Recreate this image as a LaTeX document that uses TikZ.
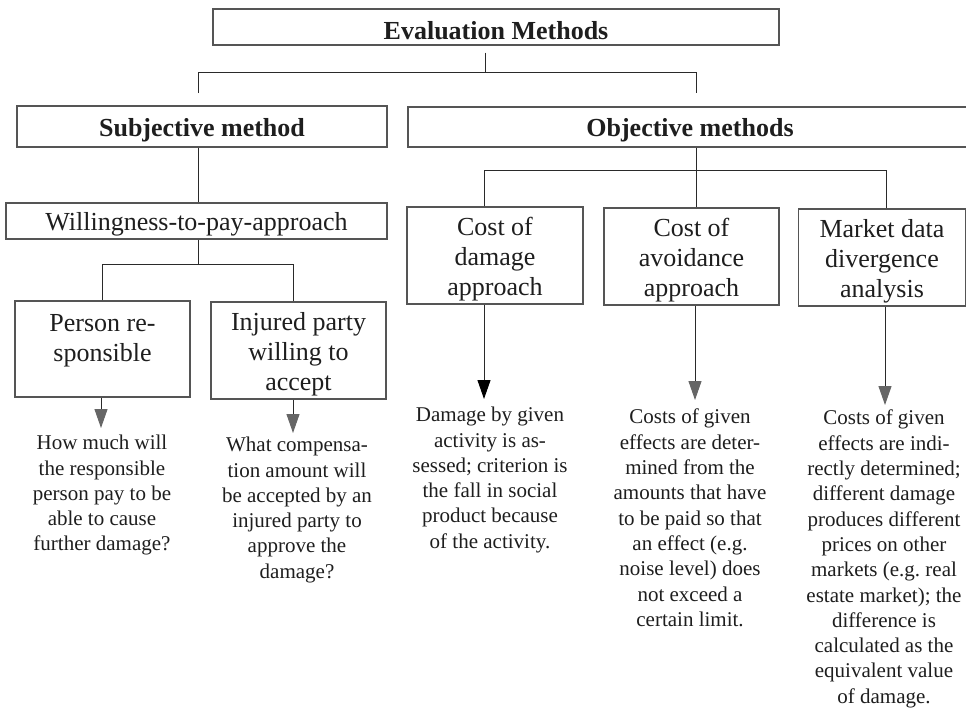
\documentclass[tikz,border=0pt]{standalone}
\usepackage{fontspec}
\setmainfont{Liberation Serif}
\usetikzlibrary{arrows.meta}
\definecolor{boxgray}{HTML}{555555}
\definecolor{linegray}{HTML}{2A2A2A}
\definecolor{headgray}{HTML}{666666}
\definecolor{inkc}{HTML}{1E1E1E}
\frenchspacing
\newcommand\fstrut{\rule{0pt}{25.5pt}}
\tikzset{
  box/.style={draw=boxgray, line width=1.4pt, inner sep=0pt, align=center,
    font=\fontsize{26}{30}\selectfont, text=inkc},
  headbox/.style={box, font=\fontsize{26}{30}\selectfont\bfseries},
  conn/.style={draw=linegray, line width=1pt},
  arr/.style={conn, -{Triangle[width=13pt,length=19pt,color=headgray]}},
  arrdark/.style={conn, -{Triangle[width=13pt,length=19pt,color=black]}},
  desc/.style={anchor=north, inner sep=0pt, align=center,
    font=\fontsize{21}{25.3}\selectfont, text=inkc},
}
\begin{document}
\begin{tikzpicture}[x=1pt,y=-1pt]
\useasboundingbox (0,0) rectangle (966,707);
\fill[white] (0,0) rectangle (966,707);

% boxes
\node[headbox, minimum width=566pt, minimum height=36pt] (eval) at (496,27) {\fstrut Evaluation Methods};
\node[headbox, minimum width=370pt, minimum height=41pt] (subj) at (202,126.5) {\fstrut Subjective method};
\node[headbox, minimum width=564pt, minimum height=40pt] (obj) at (690,127) {\fstrut Objective methods};
\node[box, minimum width=381pt, minimum height=36pt] (will) at (196.5,221) {\fstrut Willingness-to-pay-approach};
\node[box, minimum width=175pt, minimum height=96pt] (pers) at (102.5,349) {\fstrut Person re-\\sponsible\\\mbox{}};
\node[box, minimum width=175pt, minimum height=97pt] (inj) at (298.5,350.5) {\fstrut Injured party\\willing to\\accept};
\node[box, minimum width=176pt, minimum height=97pt] (dmg) at (495,255.5) {\fstrut Cost of\\damage\\approach};
\node[box, minimum width=175pt, minimum height=97pt] (avo) at (691.5,256.5) {\fstrut Cost of\\avoidance\\approach};
\node[box, minimum width=167pt, minimum height=97pt] (mkt) at (882,257.5) {\fstrut Market data\\divergence\\analysis};

% descriptions
\node[desc] (t1) at (102,435) {How much will\\the responsible\\person pay to be\\able to cause\\further damage?};
\node[desc] (t2) at (297,437) {What compensa-\\tion amount will\\be accepted by an\\injured party to\\approve the\\damage?};
\node[desc] (t3) at (490,407) {Damage by given\\activity is as-\\sessed; criterion is\\the fall in social\\product because\\of the activity.};
\node[desc] (t4) at (690,409) {Costs of given\\effects are deter-\\mined from the\\amounts that have\\to be paid so that\\an effect (e.g.\\noise level) does\\not exceed a\\certain limit.};
\node[desc] (t5) at (884,410) {Costs of given\\effects are indi-\\rectly determined;\\different damage\\produces different\\prices on other\\markets (e.g. real\\estate market); the\\difference is\\calculated as the\\equivalent value\\of damage.};

% top level connectors
\coordinate (j1) at (485,72);
\coordinate (sL) at (198,93);
\coordinate (oR) at (696,93);
\draw[conn, shorten <=7pt] (eval.south -| j1) -- (j1);
\draw[conn] (sL) -- (sL |- j1) -- (oR |- j1) -- (oR);

% subjective branch
\draw[conn] (subj.south -| sL) -- (will.north -| sL);
\coordinate (j2) at (198,264);
\coordinate (pL) at (102,264);
\coordinate (iR) at (293,264);
\draw[conn] (will.south -| j2) -- (j2);
\draw[conn] (pers.north -| pL) -- (pL) -- (iR) -- (inj.north -| iR);

% objective branch
\coordinate (j3) at (696,170);
\coordinate (dL) at (484,170);
\coordinate (mR) at (886,170);
\draw[conn] (obj.south -| j3) -- (avo.north -| j3);
\draw[conn] (dmg.north -| dL) -- (dL) -- (mR) -- (mkt.north -| mR);

% arrows to descriptions
\coordinate (a1) at (101,428);
\coordinate (a2) at (293,433);
\coordinate (a3) at (484,399);
\coordinate (a4) at (695,400);
\coordinate (a5) at (885,405);
\draw[arr] (pers.south -| a1) -- (a1);
\draw[arr] (inj.south -| a2) -- (a2);
\draw[arrdark] (dmg.south -| a3) -- (a3);
\draw[arr] (avo.south -| a4) -- (a4);
\draw[arr] (mkt.south -| a5) -- (a5);
\end{tikzpicture}
\end{document}
